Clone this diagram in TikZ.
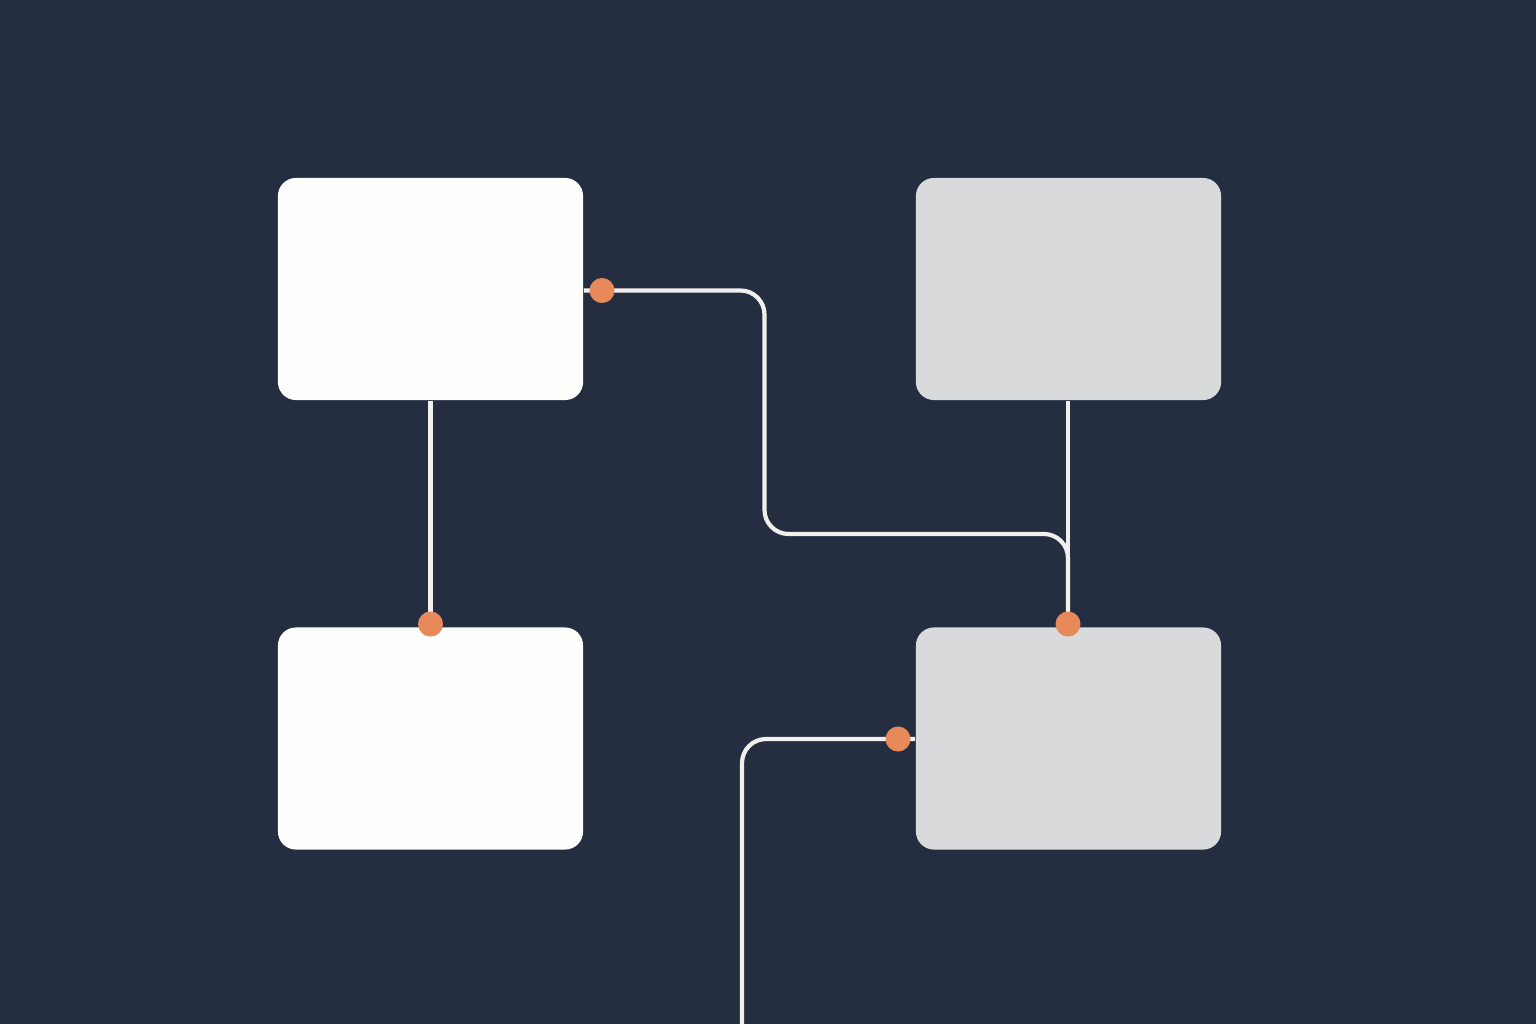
\documentclass[tikz,border=0pt]{standalone}
\begin{document}
\begin{tikzpicture}[x=0.01cm,y=-0.01cm,
  boxw/.style={draw=none,fill=boxwhite,rounded corners=0.18cm,minimum width=3.05cm,minimum height=2.22cm,inner sep=0pt},
  boxg/.style={boxw,fill=boxgrey},
  wire/.style={draw=wirecol,line width=0.042cm,rounded corners=0.24cm},
  dot/.style={circle,fill=dotcol,minimum size=0.25cm,inner sep=0pt}]
\definecolor{bgcol}{HTML}{252E41}
\definecolor{boxwhite}{HTML}{FEFEFC}
\definecolor{boxgrey}{HTML}{D9DADC}
\definecolor{wirecol}{HTML}{F2F0EC}
\definecolor{dotcol}{HTML}{E8895A}
\fill[bgcol] (0,0) rectangle (1536,1024);
\useasboundingbox (0,0) rectangle (1536,1024);
% boxes
\node[boxw] (tl) at (430.5,289) {};
\node[boxw] (bl) at (430.5,738.5) {};
\node[boxg] (tr) at (1068.5,289) {};
\node[boxg] (br) at (1068.5,738.5) {};
% dot positions
\coordinate (p1) at (602,290.5);
\coordinate (p2) at (430.5,624);
\coordinate (p3) at (1068,624);
\coordinate (p4) at (898,739);
% corner points
\coordinate (c1) at (764.5,290.5);
\coordinate (c2) at (764.5,534);
\coordinate (c3) at (1068,534);
\coordinate (c4) at (742,739);
\coordinate (c5) at (742,1030);
% wires
\draw[wire] (tl.south) -- (p2);
\draw[wire] (tr.south -| p3) -- (p3);
\draw[wire] (tl.east |- p1) -- (c1) -- (c2) -- (c3) [rounded corners=0.27cm] -- (p3);
\draw[wire] (br.west |- p4) -- (c4) -- (c5);
% dots
\node[dot] (d1) at (p1) {};
\node[dot] (d2) at (p2) {};
\node[dot] (d3) at (p3) {};
\node[dot] (d4) at (p4) {};
\end{tikzpicture}
\end{document}
